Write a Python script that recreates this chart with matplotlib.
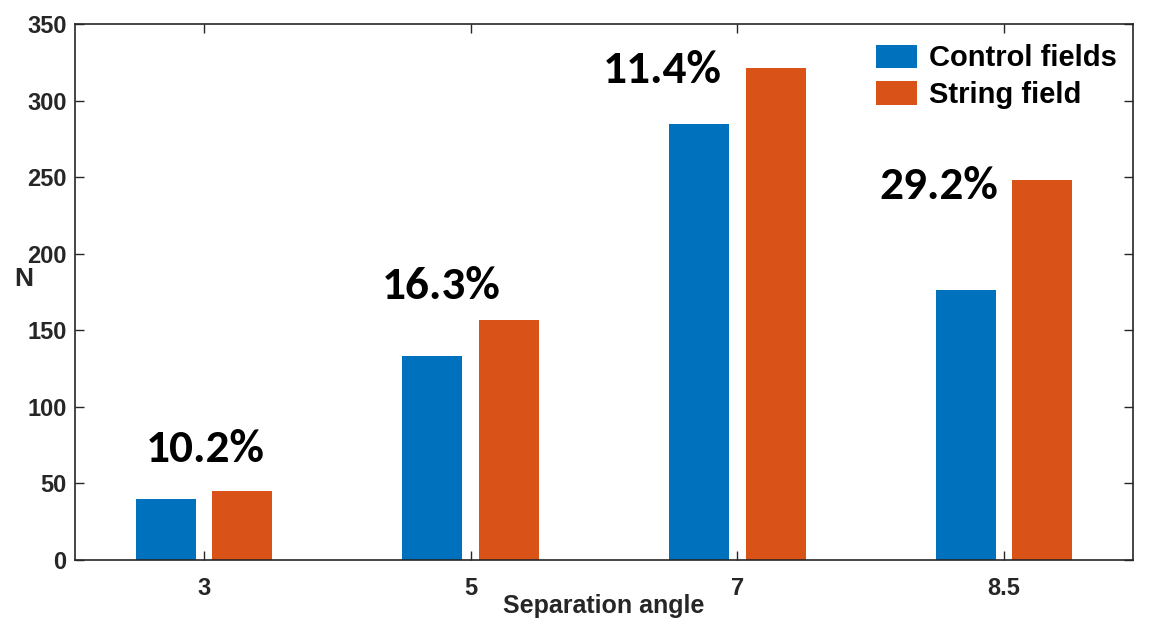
import matplotlib.pyplot as plt
import numpy as np

# bar chart of N per separation angle, control vs string field
angles = ["3", "5", "7", "8.5"]
control = [40, 133, 285, 176]
string = [45, 157, 321, 248]
series_names = ["Control fields", "String field"]

pct_labels = ["10.2%", "16.3%", "11.4%", "29.2%"]
pct_x = [1.005, 1.89, 2.72, 3.755]
pct_y = [64, 170.5, 311.5, 236]

blue = "#0072BD"
orange = "#D95319"
dark = "#262626"
sans = "Liberation Sans"

fig = plt.figure(figsize=(11.49, 6.34), dpi=100)
ax = fig.add_axes([75 / 1149, 1 - 560 / 634, 1058 / 1149, 536 / 634])

pos = np.arange(1, len(angles) + 1)
w = 0.225
off = 0.144
ax.bar(pos - off, control, w, color=blue, label=series_names[0])
ax.bar(pos + off, string, w, color=orange, label=series_names[1])

ax.set_xlim(0.516, 4.484)
ax.set_ylim(0, 350)
ax.set_xticks(pos)
ax.set_xticklabels(angles)
ax.set_yticks(np.arange(0, 351, 50))

for s in ax.spines.values():
    s.set_color(dark)
    s.set_linewidth(1.2)
ax.tick_params(direction="in", top=True, right=True, length=6.5, width=1,
               color=dark, labelcolor=dark, labelsize=17)
ax.tick_params(axis="x", pad=12)
ax.tick_params(axis="y", pad=6)
for lab in ax.get_xticklabels() + ax.get_yticklabels():
    lab.set_fontweight("bold")
    lab.set_family(sans)

ax.set_xlabel("Separation angle", fontsize=18, fontweight="bold",
              family=sans, color=dark, labelpad=-4)
ax.set_ylabel("N", fontsize=19, fontweight="bold", family=sans,
              color=dark, rotation=0, va="center", ha="center")
ax.yaxis.set_label_coords(-0.048, 0.525)

for t, x, y in zip(pct_labels, pct_x, pct_y):
    ax.text(x, y, t, ha="center", va="baseline", fontsize=34,
            fontweight="bold", family=["Carlito", "Lato"], color="black")

leg = ax.legend(loc="upper right", frameon=False,
                prop={"family": sans, "weight": "bold", "size": 21},
                handlelength=1.4, handleheight=0.85, handletextpad=0.4,
                labelspacing=0.3, borderaxespad=0.3, bbox_to_anchor=(1.004, 1.0))
for t in leg.get_texts():
    t.set_color("black")

plt.savefig("out.png", dpi=100)
